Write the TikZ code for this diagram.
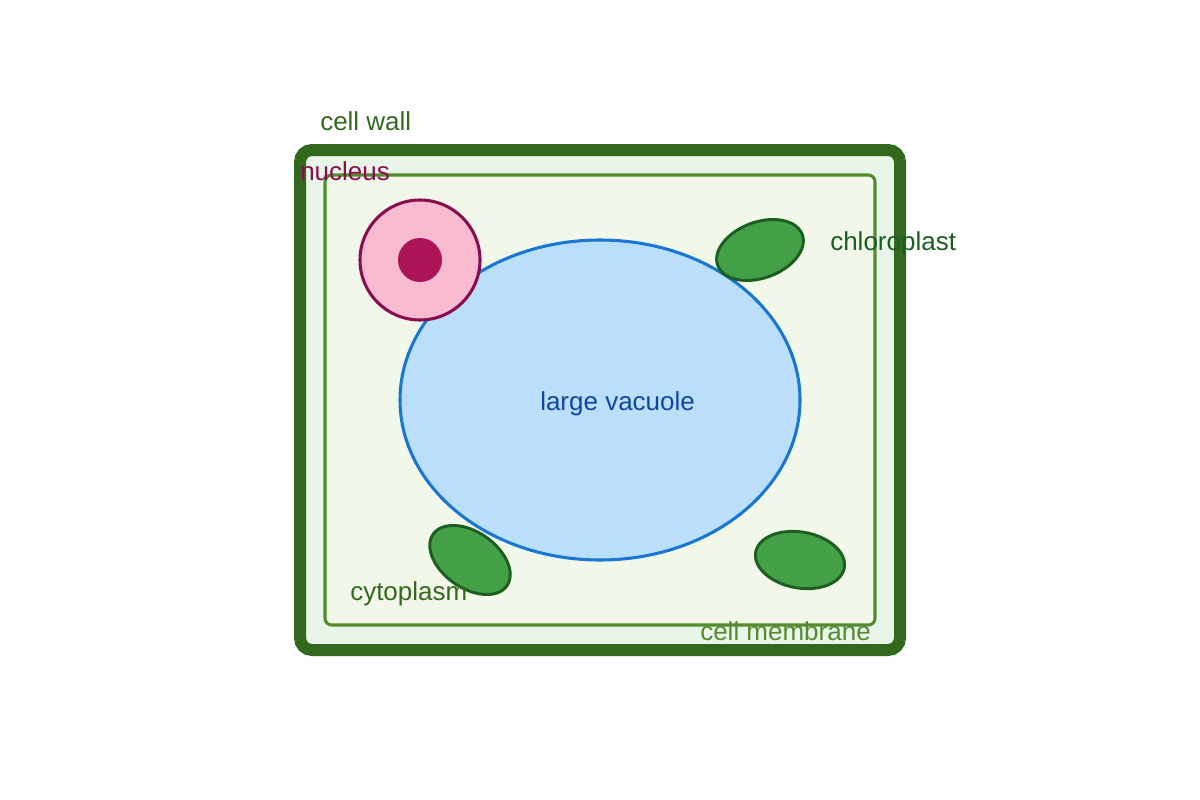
\documentclass[tikz,border=0pt]{standalone}
\usepackage{fontspec}
\setmainfont{Liberation Sans}
\usetikzlibrary{shapes.geometric}
\begin{document}
\begin{tikzpicture}[x=0.75pt,y=-0.75pt,
  lbl/.style={anchor=base west,inner sep=0pt,font=\fontsize{19.5pt}{23pt}\selectfont},
  chl/.style={draw=cDk,fill=cCh,line width=2.2pt,ellipse,minimum width=67.5pt,minimum height=42pt,inner sep=0pt}]
\definecolor{cWall}{HTML}{33691E}\definecolor{cWf}{HTML}{E8F5E9}
\definecolor{cMem}{HTML}{558B2F}\definecolor{cMf}{HTML}{F1F8E9}
\definecolor{cVf}{HTML}{BBDEFB}\definecolor{cVs}{HTML}{1976D2}
\definecolor{cNf}{HTML}{F8BBD0}\definecolor{cNs}{HTML}{880E4F}
\definecolor{cNo}{HTML}{AD1457}\definecolor{cCh}{HTML}{43A047}
\definecolor{cDk}{HTML}{1B5E20}\definecolor{cVt}{HTML}{0D47A1}
\useasboundingbox (0,0) rectangle (1200,800);
\draw[draw=cWall,fill=cWf,line width=9pt,rounded corners=9pt] (300,150) rectangle (900,650);
\draw[draw=cMem,fill=cMf,line width=2.3pt,rounded corners=5pt] (325,175) rectangle (875,625);
\node[draw=cVs,fill=cVf,line width=2.3pt,ellipse,minimum width=300pt,minimum height=240pt,inner sep=0pt] (vac) at (600,400) {};
\node[draw=cNs,fill=cNf,line width=2.3pt,circle,minimum size=90pt,inner sep=0pt] (nuc) at (420,260) {};
\node[fill=cNo,circle,minimum size=33pt,inner sep=0pt] (nlo) at (420,260) {};
\node[chl,rotate=20] (c1) at (760,250) {};
\node[chl,rotate=-35] (c2) at (470,560) {};
\node[chl,rotate=-10] (c3) at (800,560) {};
\node[lbl,text=cWall] (lw) at (320,130) {cell wall};
\node[lbl,text=cNs] (ln) at (300,180) {nucleus};
\node[lbl,text=cDk] (lc) at (830,250) {chloroplast};
\node[lbl,text=cVt] (lv) at (540,410) {large vacuole};
\node[lbl,text=cWall] (ly) at (350,600) {cytoplasm};
\node[lbl,text=cMem] (lm) at (700,640) {cell membrane};
\end{tikzpicture}
\end{document}
